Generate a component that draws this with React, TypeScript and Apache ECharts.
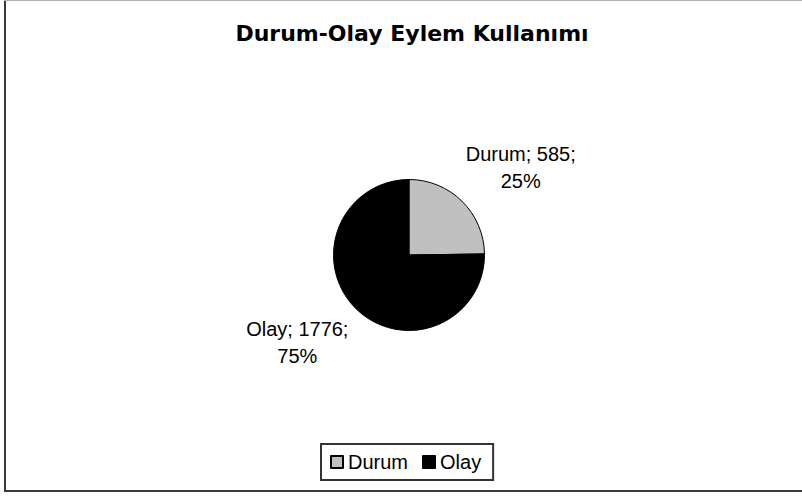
import React, { useEffect, useRef } from "react";
import * as echarts from "echarts";

const titleText = "Durum-Olay Eylem Kullanımı";
const categories = ["Durum", "Olay"];
const values = [585, 1776];
const colors = ["#C0C0C0", "#000000"];

export default function App() {
  const ref = useRef<HTMLDivElement>(null);
  useEffect(() => {
    if (!ref.current) return;
    const chart = echarts.init(ref.current, undefined, { renderer: "svg" });
    const font = "'Liberation Sans', Arial, sans-serif";
    chart.setOption({
      animation: false,
      backgroundColor: "#ffffff",
      title: {
        text: titleText,
        left: 412,
        textAlign: "center",
        top: 22,
        padding: 0,
        textStyle: {
          fontFamily: "'DejaVu Sans', sans-serif",
          fontWeight: "bold",
          fontSize: 22,
          color: "#000",
        },
      },
      legend: {
        data: categories,
        left: 321,
        top: 444,
        orient: "horizontal",
        icon: "rect",
        itemWidth: 12,
        itemHeight: 12,
        itemGap: 14,
        padding: [7, 12, 7, 9],
        borderColor: "#333",
        borderWidth: 2,
        textStyle: { fontFamily: font, fontSize: 20, color: "#000", lineHeight: 22 },
      },
      graphic: [
        { type: "line", shape: { x1: 5, y1: 0, x2: 5, y2: 492 }, style: { stroke: "#3a3a3a", lineWidth: 2 } },
        { type: "line", shape: { x1: 4, y1: 491, x2: 802, y2: 491 }, style: { stroke: "#3a3a3a", lineWidth: 2 } },
        { type: "line", shape: { x1: 4, y1: 0.5, x2: 802, y2: 0.5 }, style: { stroke: "#b0b0b0", lineWidth: 1 } },
      ],
      series: [
        {
          type: "pie",
          center: [409, 255],
          radius: 75.5,
          startAngle: 90,
          clockwise: true,
          percentPrecision: 0,
          avoidLabelOverlap: false,
          itemStyle: { borderColor: "#000", borderWidth: 1 },
          label: {
            show: true,
            position: "outside",
            formatter: "{b}; {c};\n{d}%",
            fontFamily: font,
            fontSize: 20,
            lineHeight: 27,
            color: "#000",
          },
          labelLine: { show: false, length: 48, length2: 20 },
          labelLayout: () => ({ align: "center" }),
          emphasis: { disabled: true },
          data: categories.map((c, i) => ({
            name: c,
            value: values[i],
            itemStyle: { color: colors[i] },
          })),
        },
      ],
    });
    return () => chart.dispose();
  }, []);
  return (
    <div
      ref={ref}
      style={{ position: "fixed", left: 0, top: 0, width: 802, height: 497 }}
    />
  );
}
